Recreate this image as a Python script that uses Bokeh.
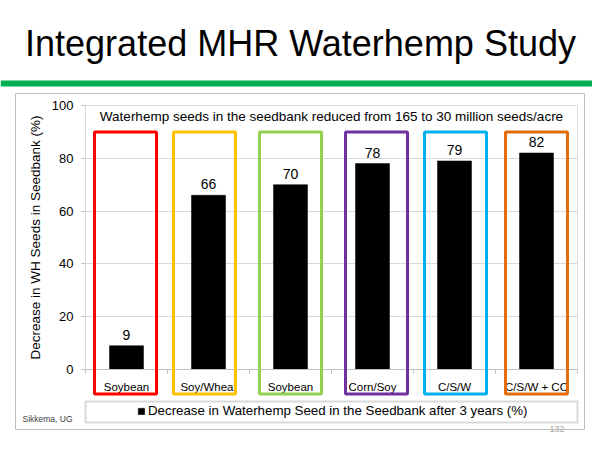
from bokeh.plotting import figure
from bokeh.models import Range1d, LinearAxis, FixedTicker, Grid, Label, Legend, LegendItem
from bokeh.embed import file_html
from bokeh.resources import INLINE
from bokeh.core.properties import value

# ---- data ----
title = "Integrated MHR Waterhemp Study"
subtitle = "Waterhemp seeds in the seedbank reduced from 165 to 30 million seeds/acre"
categories = ["Soybean", "Soy/Wheat", "Soybean", "Corn/Soy", "C/S/W", "C/S/W + CC"]
decrease = [9, 66, 70, 78, 79, 82]
y_ticks = [0, 20, 40, 60, 80, 100]
series_name = "Decrease in Waterhemp Seed in the Seedbank after 3 years (%)"
y_title = "Decrease in WH Seeds in Seedbank (%)"
source_note = "Sikkema, UG"
page_no = "132"

# ---- styles ----
box_colors = ["#FF0000", "#FFC000", "#92D050", "#7030A0", "#00B0F0", "#E46C0A"]
box_nudge_px = [-1, -4, 0, 4, 1, 0]
FONT = "Liberation Sans"
GRID = "#D9D9D9"
AXIS = "#BFBFBF"
LABEL_GAP_PX = 11

# ---- layout (picture pixels -> data) ----
W, H = 592, 442
OFF = 0
PX_X = 82.0
PX_Y = 2.64


def X(px):
    return 0.5 + (px - 85) / PX_X


def Y(py):
    return (369 - py) / PX_Y


xs = list(range(1, len(categories) + 1))

p = figure(width=W, height=H, output_backend="svg", toolbar_location=None,
           x_range=Range1d(X(OFF), X(OFF + W)), y_range=Range1d(Y(OFF + H), Y(OFF)),
           x_axis_type=None, y_axis_type=None,
           min_border=0, min_border_left=0, min_border_right=0,
           min_border_top=0, min_border_bottom=0,
           outline_line_color=None, background_fill_color="white",
           border_fill_color="white")

# green rule under the title
p.quad(left=X(OFF), right=X(OFF + W), top=Y(80), bottom=Y(86),
       fill_color="#00B050", line_color=None)

# outer chart frame
p.quad(left=X(15), right=X(584), top=Y(93), bottom=Y(429),
       fill_color=None, line_color=AXIS, line_width=1)

# plot area border
p.quad(left=0.5, right=len(categories) + 0.5, top=100, bottom=0,
       fill_color=None, line_color=GRID, line_width=1)

# grid
grid = Grid(dimension=1, ticker=FixedTicker(ticks=y_ticks), cross_bounds=(0.5, len(categories) + 0.5),
            grid_line_color=GRID, grid_line_width=1)
p.add_layout(grid)

# bars
bars = p.vbar(x=xs, top=decrease, bottom=0, width=34 / PX_X,
              fill_color="black", line_color="black", line_width=0.5)

# value labels
p.text(x=xs, y=[v + LABEL_GAP_PX / PX_Y for v in decrease], text=[str(v) for v in decrease],
       text_align="center", text_baseline="alphabetic", text_font_size="14px",
       text_font=value(FONT), text_color="black")

# axes
yaxis = LinearAxis(fixed_location=0.5, ticker=FixedTicker(ticks=y_ticks, minor_ticks=[]),
                   bounds=(0, 100), axis_line_color=GRID, major_tick_line_color=AXIS,
                   major_tick_out=4, major_tick_in=0, minor_tick_line_color=None,
                   major_label_text_font_size="13px", major_label_text_font=FONT,
                   major_label_text_color="black", major_label_standoff=8,
                   axis_label=y_title, axis_label_text_font_size="13.5px",
                   axis_label_text_font=FONT, axis_label_text_font_style="normal",
                   axis_label_text_color="black", axis_label_standoff=6)
p.add_layout(yaxis, "left")

xaxis = LinearAxis(fixed_location=0,
                   ticker=FixedTicker(ticks=xs, minor_ticks=[i + 0.5 for i in range(len(categories) + 1)]),
                   bounds=(0.5, len(categories) + 0.5), axis_line_color=AXIS,
                   major_tick_line_color=None, major_tick_out=0, major_tick_in=0,
                   minor_tick_line_color=AXIS, minor_tick_out=4, minor_tick_in=0,
                   major_label_overrides={x: c for x, c in zip(xs, categories)},
                   major_label_text_font_size="11.5px", major_label_text_font=FONT,
                   major_label_text_color="black", major_label_standoff=7)
p.add_layout(xaxis, "below")

# highlight boxes around each treatment (drawn above labels)
half = 31 / PX_X
cx = [x + n / PX_X for x, n in zip(xs, box_nudge_px)]
boxes = p.quad(left=[c - half for c in cx], right=[c + half for c in cx],
               top=Y(131.5), bottom=Y(393.5), fill_color=None,
               line_color=box_colors, line_width=3)
boxes.level = "annotation"

# legend box + legend
p.quad(left=0.5, right=len(categories) + 0.5, top=Y(401), bottom=Y(422),
       fill_color=None, line_color=GRID, line_width=2)
legend = Legend(items=[LegendItem(label=series_name, renderers=[bars])],
                location=(137, 24), padding=0, margin=0, spacing=0,
                border_line_color=None, background_fill_alpha=0,
                glyph_width=8, glyph_height=8, label_height=8, label_standoff=3,
                label_text_font_size="13.3px", label_text_font=FONT,
                label_text_color="black")
p.add_layout(legend)

# texts
p.add_layout(Label(x=X(300), y=Y(43), text=title, text_align="center",
                   text_baseline="alphabetic", text_font_size="36px",
                   text_font=FONT, text_color="black"))
p.add_layout(Label(x=3.5, y=Y(116), text=subtitle, text_align="center",
                   text_baseline="alphabetic", text_font_size="13.5px",
                   text_font=FONT, text_color="black"))
p.add_layout(Label(x=X(22), y=Y(418), text=source_note, text_align="left",
                   text_baseline="alphabetic", text_font_size="8.5px",
                   text_font=FONT, text_color="#404040"))
p.add_layout(Label(x=X(556.5), y=Y(428), text=page_no, text_align="center",
                   text_baseline="middle", text_font_size="9px",
                   text_font=FONT, text_color="#A6A6A6"))

open("out.html", "w").write(file_html(p, INLINE))
